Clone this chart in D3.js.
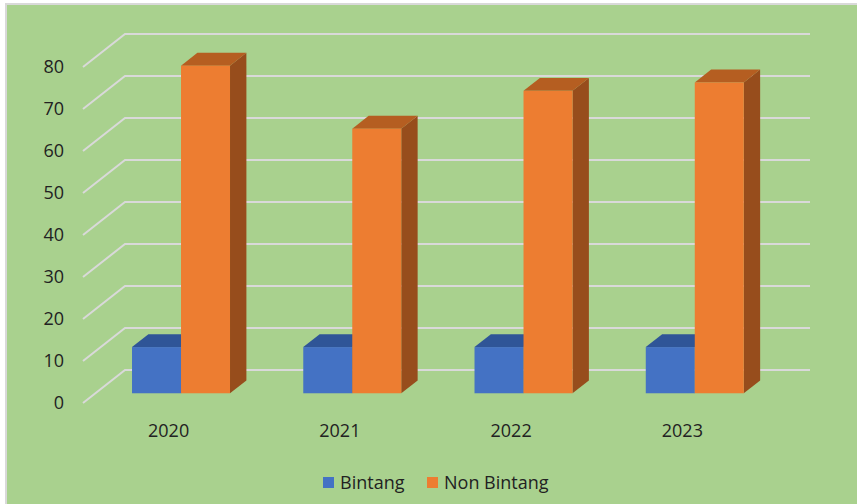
<!DOCTYPE html>
<html>
<head>
<meta charset="utf-8">
<script src="https://cdn.jsdelivr.net/npm/d3@7"></script>
<style>
  body { margin: 0; background: #fff; }
  text { font-family: "Open Sans", "Noto Sans", sans-serif; fill: #222; }
</style>
</head>
<body>
<div id="chart"></div>
<script>
var years = ["2020", "2021", "2022", "2023"];
var seriesNames = ["Bintang", "Non Bintang"];
var bintang = [11, 11, 11, 11];
var nonBintang = [78, 63, 72, 74];
var yTicks = [0, 10, 20, 30, 40, 50, 60, 70, 80];

var W = 857, H = 504;
// front plane origin, depth vector of the floor
var x0 = 83, y0 = 403, depthX = 42, depthY = -33;
var plotWidth = 685;
var barDepthStart = 0.295, barDepthLen = 0.39;

var colors = {
  "Bintang": { front: "#4472c4", top: "#2f5597", side: "#2c4f8c" },
  "Non Bintang": { front: "#ed7d31", top: "#b55e21", side: "#974d1c" }
};

var svg = d3.select("#chart").append("svg")
  .attr("width", W)
  .attr("height", H);

svg.append("rect")
  .attr("x", 6).attr("y", 4)
  .attr("width", W + 10).attr("height", H + 10)
  .attr("fill", "#a9d18e")
  .attr("stroke", "#d9d9d9")
  .attr("stroke-width", 2);

var x = d3.scaleBand().domain(years).range([0, plotWidth]);
var y = d3.scaleLinear().domain([0, 80]).range([0, 336]);

// gridlines: side wall diagonal + back wall
var grid = svg.append("g");
yTicks.forEach(function (t) {
  var fy = y0 - y(t);
  grid.append("path")
    .attr("d", "M" + x0 + "," + fy + "L" + (x0 + depthX) + "," + (fy + depthY) +
      "L" + (x0 + depthX + plotWidth) + "," + (fy + depthY))
    .attr("fill", "none")
    .attr("stroke", "#d9d9d9")
    .attr("stroke-width", 2);
});

// y axis labels
svg.append("g").selectAll("text")
  .data(yTicks)
  .enter()
  .append("text")
  .attr("x", 64)
  .attr("y", function (d) { return y0 - y(d); })
  .attr("dy", "0.35em")
  .attr("text-anchor", "end")
  .style("font-size", "18px")
  .text(function (d) { return d; });

// x axis labels
svg.append("g").selectAll("text")
  .data(years)
  .enter()
  .append("text")
  .attr("x", function (d) { return x0 + x(d) + x.bandwidth() / 2; })
  .attr("y", 431)
  .attr("dy", "0.35em")
  .attr("text-anchor", "middle")
  .style("font-size", "18px")
  .text(function (d) { return d; });

// bars
var barW = 49;
var dx = barDepthStart * depthX, dy = barDepthStart * depthY;
var ddx = barDepthLen * depthX, ddy = barDepthLen * depthY;
var bars = [];
years.forEach(function (yr, i) {
  bars.push({ year: yr, s: "Bintang", v: bintang[i], k: 0 });
  bars.push({ year: yr, s: "Non Bintang", v: nonBintang[i], k: 1 });
});

var barG = svg.append("g").selectAll("g")
  .data(bars)
  .enter()
  .append("g");

function bx(d) { return x0 + x(d.year) + x.bandwidth() / 2 - barW + d.k * barW + dx; }
function by(d) { return y0 + dy; }

barG.append("path")
  .attr("fill", function (d) { return colors[d.s].side; })
  .attr("d", function (d) {
    var l = bx(d) + barW, b = by(d), t = b - y(d.v);
    return "M" + l + "," + b + "L" + l + "," + t + "L" + (l + ddx) + "," + (t + ddy) +
      "L" + (l + ddx) + "," + (b + ddy) + "Z";
  });

barG.append("path")
  .attr("fill", function (d) { return colors[d.s].top; })
  .attr("d", function (d) {
    var l = bx(d), t = by(d) - y(d.v);
    return "M" + l + "," + t + "L" + (l + barW) + "," + t + "L" + (l + barW + ddx) + "," + (t + ddy) +
      "L" + (l + ddx) + "," + (t + ddy) + "Z";
  });

barG.append("rect")
  .attr("fill", function (d) { return colors[d.s].front; })
  .attr("x", bx)
  .attr("y", function (d) { return by(d) - y(d.v); })
  .attr("width", barW)
  .attr("height", function (d) { return y(d.v); });

// legend
var legendX = [323, 427];
var legend = svg.append("g").selectAll("g")
  .data(seriesNames)
  .enter()
  .append("g")
  .attr("transform", function (d, i) { return "translate(" + legendX[i] + ",477)"; });

legend.append("rect")
  .attr("width", 11)
  .attr("height", 11)
  .attr("fill", function (d) { return colors[d].front; });

legend.append("text")
  .attr("x", 17)
  .attr("y", 6)
  .attr("dy", "0.35em")
  .style("font-size", "18px")
  .text(function (d) { return d; });
</script>
</body>
</html>
